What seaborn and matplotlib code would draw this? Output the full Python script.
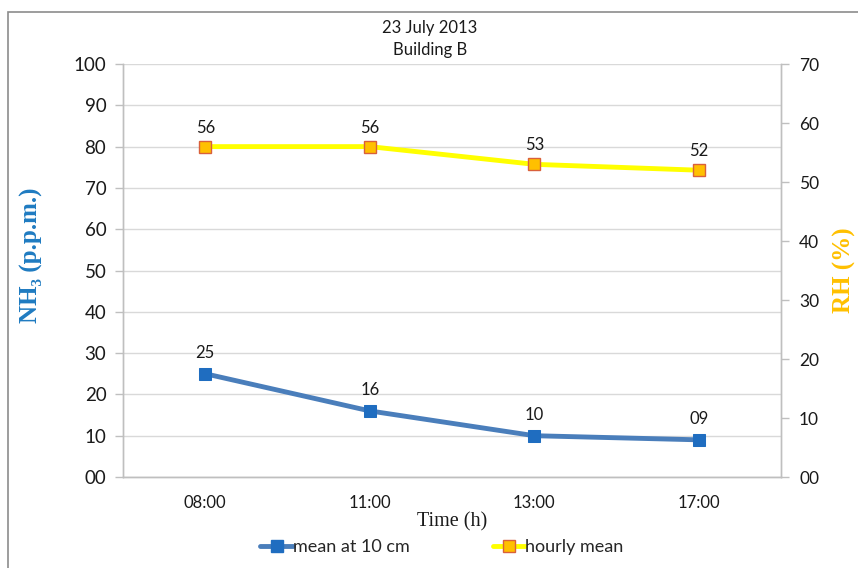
import matplotlib
matplotlib.use("Agg")
import matplotlib.pyplot as plt
import seaborn as sns
import pandas as pd
from matplotlib.lines import Line2D
from matplotlib.patches import Rectangle

# Sampling times and measured series
times = ["08:00", "11:00", "13:00", "17:00"]
nh3_ppm = [25, 16, 10, 9]
rh_pct = [56, 56, 53, 52]
left_ticks = [0, 10, 20, 30, 40, 50, 60, 70, 80, 90, 100]
right_ticks = [0, 10, 20, 30, 40, 50, 60, 70]

df = pd.DataFrame({"time": times, "nh3": nh3_ppm, "rh": rh_pct})

sns.set_theme(style="white")
plt.rcParams["font.family"] = ["Lato", "DejaVu Sans"]

fig = plt.figure(figsize=(8.58, 5.68), dpi=100)
ax = fig.add_axes([0.1434, 0.1602, 0.7669, 0.7271])
ax2 = ax.twinx()

blue_line = "#4A7EBB"
blue_mark = "#1F6DC0"
yellow = "#FFFF00"
orange = "#FFC000"
grid_c = "#D9D9D9"
spine_c = "#BFBFBF"
text_c = "#1A1A1A"
serif = ["Liberation Serif", "DejaVu Serif"]

# NH3 on the left axis
sns.lineplot(data=df, x="time", y="nh3", ax=ax, color=blue_line, linewidth=3.5,
             marker="s", markersize=9, markerfacecolor=blue_mark,
             markeredgecolor=blue_mark, sort=False, legend=False, zorder=3)
# RH on the right axis
sns.lineplot(data=df, x="time", y="rh", ax=ax2, color=yellow, linewidth=3.5,
             marker="s", markersize=8, markerfacecolor=orange,
             markeredgecolor="#D9603B", markeredgewidth=1.0, sort=False,
             legend=False, zorder=3)

ax.set_xlim(-0.5, len(times) - 0.5)
ax.set_ylim(0, 100)
ax2.set_ylim(0, 70)

ax.set_yticks(left_ticks)
ax.set_yticklabels([f"{v:02d}" for v in left_ticks], fontsize=13.5, color=text_c)
ax2.set_yticks(right_ticks)
ax2.set_yticklabels([f"{v:02d}" for v in right_ticks], fontsize=12.5, color=text_c)

ax.set_xticks(range(len(times)))
ax.set_xticklabels(times, fontsize=12, color=text_c)
ax.tick_params(axis="x", length=0, pad=13)
# category separator ticks below the axis
ax.set_xticks([i - 0.5 for i in range(len(times) + 1)], minor=True)
ax.tick_params(axis="x", which="minor", length=6, color=spine_c, width=1, direction="out")
ax.tick_params(axis="y", length=6, color=spine_c, width=1, direction="out", pad=6)
ax2.tick_params(axis="y", length=6, color=spine_c, width=1, direction="out", pad=7)

ax.yaxis.grid(True, color=grid_c, linewidth=1)
ax.set_axisbelow(True)

for a in (ax, ax2):
    a.spines["top"].set_visible(False)
    for side in ("left", "right", "bottom"):
        a.spines[side].set_color(spine_c)
        a.spines[side].set_linewidth(1)

ax.set_xlabel("Time (h)", family=serif, fontsize=14.5, color=text_c, labelpad=1)
ax.set_ylabel("")
ax2.set_ylabel("")

# Value labels above each point
for i, v in enumerate(nh3_ppm):
    ax.annotate(f"{v:02d}", (i, v), xytext=(0, 9), textcoords="offset points",
                ha="center", va="bottom", fontsize=12, color=text_c)
for i, v in enumerate(rh_pct):
    ax2.annotate(f"{v:02d}", (i, v), xytext=(0, 8), textcoords="offset points",
                 ha="center", va="bottom", fontsize=12, color=text_c)

# Axis titles
fig.text(0.037, 0.55, "NH₃ (p.p.m.)", rotation=90, ha="center", va="center",
         fontsize=18, fontweight="bold", color="#1F7BC1", family=serif)
fig.text(0.984, 0.525, "RH (%)", rotation=90, ha="center", va="center",
         fontsize=18, fontweight="bold", color=orange, family=serif)

# Chart title
fig.text(0.501, 0.951, "23 July 2013", ha="center", va="center", fontsize=12, color=text_c)
fig.text(0.501, 0.912, "Building B", ha="center", va="center", fontsize=12, color=text_c)

# Legend
handles = [
    Line2D([0], [0], color=blue_line, linewidth=3.5, marker="s", markersize=8,
           markerfacecolor=blue_mark, markeredgecolor=blue_mark),
    Line2D([0], [0], color=yellow, linewidth=3.5, marker="s", markersize=8,
           markerfacecolor=orange, markeredgecolor="#D9603B"),
]
fig.legend(handles, ["mean at 10 cm", "hourly mean"], loc="center",
           bbox_to_anchor=(0.515, 0.037), ncol=2, frameon=False, fontsize=13,
           handlelength=1.8, handletextpad=0.0, columnspacing=4.6, numpoints=1)

# Chart border
fig.patches.append(Rectangle((8 / 858, -0.01), 1.0, 1 - 12 / 568 + 0.01,
                             transform=fig.transFigure, fill=False,
                             edgecolor="#8C8C8C", linewidth=1.2))

fig.savefig("out.png", dpi=100)
